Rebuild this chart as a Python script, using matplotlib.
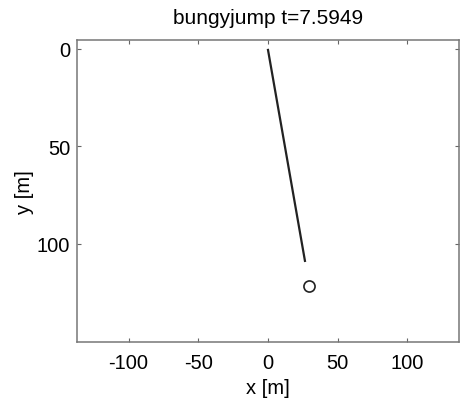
import matplotlib.pyplot as plt

# rope from anchor to jumper, and jumper position
rope_x = [0, 26.5]
rope_y = [0.5, 108.7]
jumper_x = [29.4]
jumper_y = [121.5]
t = 7.5949

xticks = [-100, -50, 0, 50, 100]
yticks = [0, 50, 100]

plt.rcParams['font.family'] = ['Liberation Sans', 'DejaVu Sans']
plt.rcParams['font.size'] = 14.5
plt.rcParams['axes.unicode_minus'] = False

fig = plt.figure(figsize=(4.63, 4.02), dpi=100)
ax = fig.add_axes([0.1663, 0.1468, 0.8251, 0.7512])

ax.plot(rope_x, rope_y, color='#222222', linewidth=1.6)
ax.plot(jumper_x, jumper_y, 'o', markerfacecolor='none', markeredgecolor='#222222',
        markersize=8, markeredgewidth=1.2)

ax.set_xlim(-137, 137)
ax.set_ylim(150.3, -4.6)
ax.set_xticks(xticks)
ax.set_yticks(yticks)
ax.tick_params(direction='in', top=True, right=True, length=3, colors='#666666',
               labelcolor='black', width=0.8, pad=5)
ax.tick_params(axis='x', pad=8)
for s in ax.spines.values():
    s.set_color('#777777')
    s.set_linewidth(1.1)

ax.set_xlabel('x [m]', labelpad=4)
ax.set_ylabel('y [m]', labelpad=2)
ax.set_title(f'bungyjump t={t}', fontsize=15, pad=12)

fig.savefig('out.png', dpi=100)
